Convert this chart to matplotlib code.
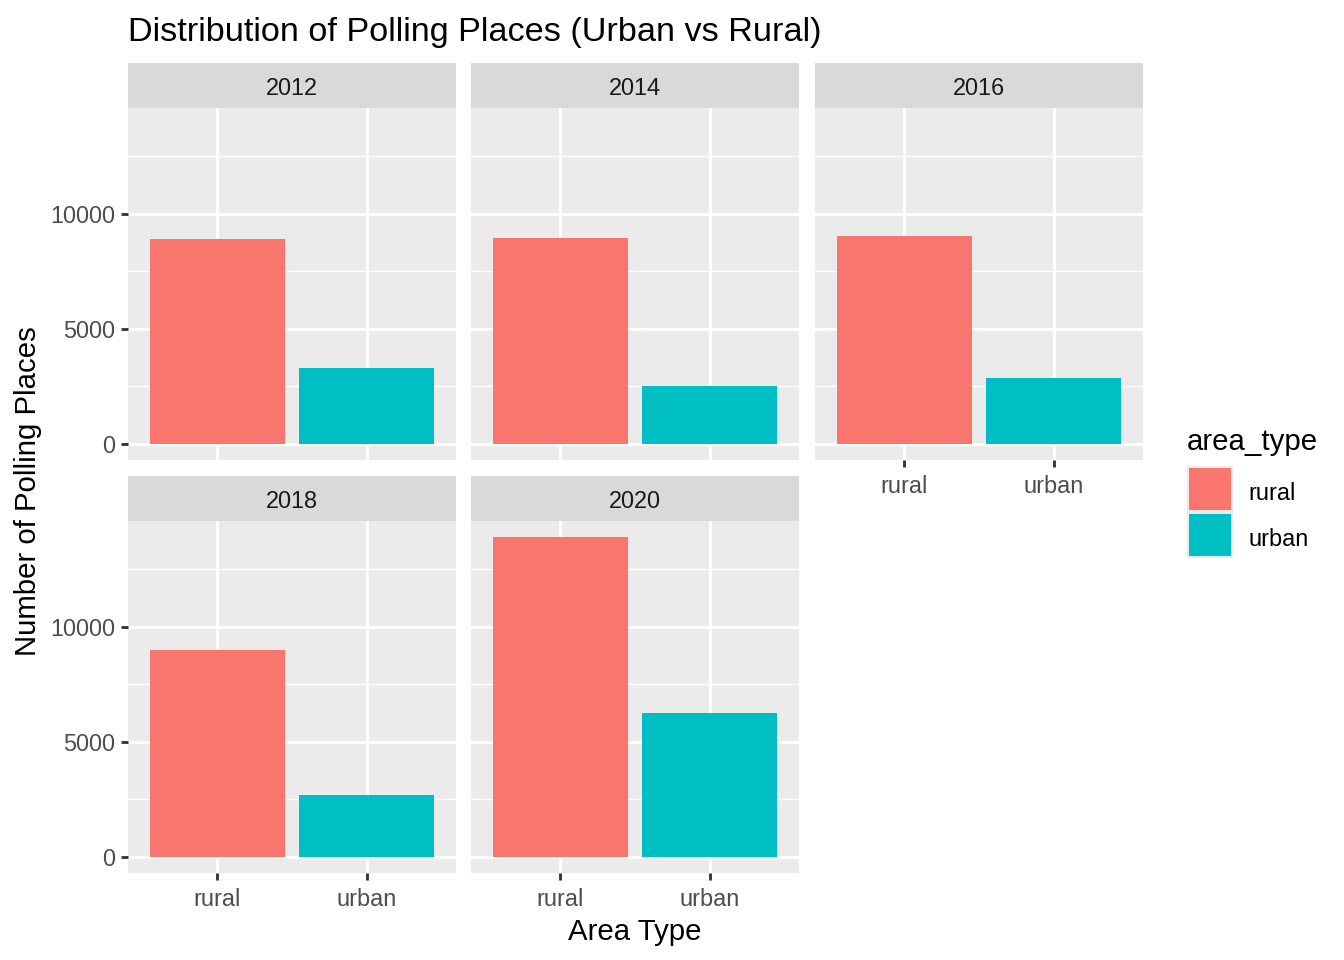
import matplotlib
matplotlib.use("Agg")
import matplotlib.pyplot as plt
from matplotlib.patches import Rectangle

plt.rcParams['font.family'] = ['Liberation Sans', 'DejaVu Sans']

years = ["2012", "2014", "2016", "2018", "2020"]
categories = ["rural", "urban"]
rural = [8900, 8960, 9040, 9000, 13910]
urban = [3300, 2520, 2870, 2700, 6260]
colors = {"rural": "#F8766D", "urban": "#00BFC4"}
yticks = [0, 5000, 10000]
minor_ticks = [2500, 7500, 12500]

W, H = 1344, 960
fig = plt.figure(figsize=(7, 5), dpi=192)

def fx(x): return x / W
def fy(y): return 1 - y / H

panel_x = [(128, 456), (471, 799), (815, 1143)]
rows = [(63, 108, 460), (476, 521, 873)]

ymax = max(max(rural), max(urban))
ylim = (-0.05 * ymax, 1.05 * ymax)

grid_lw = 1.07
for i, yr in enumerate(years):
    r, c = divmod(i, 3)
    x0, x1 = panel_x[c]
    st, pt, pb = rows[r]
    ax = fig.add_axes([fx(x0), fy(pb), (x1 - x0) / W, (pb - pt) / H])
    ax.set_facecolor("#EBEBEB")
    ax.set_xlim(0.4, 2.6)
    ax.set_ylim(*ylim)
    for s in ax.spines.values():
        s.set_visible(False)
    for m in minor_ticks:
        ax.axhline(m, color="white", lw=grid_lw / 2, zorder=0)
    for m in yticks:
        ax.axhline(m, color="white", lw=grid_lw, zorder=0)
    for k in range(len(categories)):
        ax.axvline(k + 1, color="white", lw=grid_lw, zorder=0)
    vals = [rural[i], urban[i]]
    ax.bar([1, 2], vals, width=0.9, color=[colors[c_] for c_ in categories], zorder=2)
    ax.set_xticks([1, 2])
    ax.set_yticks(yticks)
    show_x = (r == 1) or (i == 2)
    show_y = (c == 0)
    ax.tick_params(axis="both", colors="#333333", width=grid_lw, length=2.75,
                   labelsize=8.8, labelcolor="#4D4D4D")
    ax.tick_params(axis="x", pad=2.8)
    ax.tick_params(axis="y", pad=2.0)
    if show_x:
        ax.set_xticklabels(categories)
    else:
        ax.tick_params(axis="x", length=0, labelbottom=False)
    if show_y:
        ax.set_yticklabels([str(v) for v in yticks])
    else:
        ax.tick_params(axis="y", length=0, labelleft=False)
    # strip
    sax = fig.add_axes([fx(x0), fy(pt), (x1 - x0) / W, (pt - st) / H])
    sax.set_facecolor("#D9D9D9")
    sax.set_xticks([]); sax.set_yticks([])
    for s in sax.spines.values():
        s.set_visible(False)
    sax.text(0.5, 0.43, yr, ha="center", va="center", fontsize=8.8, color="#1A1A1A",
             transform=sax.transAxes)

fig.text(fx(128), fy(33), "Distribution of Polling Places (Urban vs Rural)",
         fontsize=12.85, ha="left", va="center", color="black")
fig.text(fx(635), fy(932), "Area Type", fontsize=11, ha="center", va="center")
fig.text(fx(28), fy(491), "Number of Polling Places", fontsize=11, ha="center",
         va="center", rotation=90)

# legend
fig.text(fx(1187), fy(442), "area_type", fontsize=11, ha="left", va="center")
for j, cat in enumerate(categories):
    top = 466 + j * 46
    fig.patches.append(Rectangle((fx(1187), fy(top + 46)), 46 / W, 46 / H,
                                 transform=fig.transFigure, facecolor="#EBEBEB",
                                 edgecolor="none"))
    fig.patches.append(Rectangle((fx(1189), fy(top + 44)), 42 / W, 42 / H,
                                 transform=fig.transFigure, facecolor=colors[cat],
                                 edgecolor="none"))
    fig.text(fx(1248), fy(top + 27), cat, fontsize=8.8, ha="left", va="center")

fig.savefig("out.png", dpi=192)
